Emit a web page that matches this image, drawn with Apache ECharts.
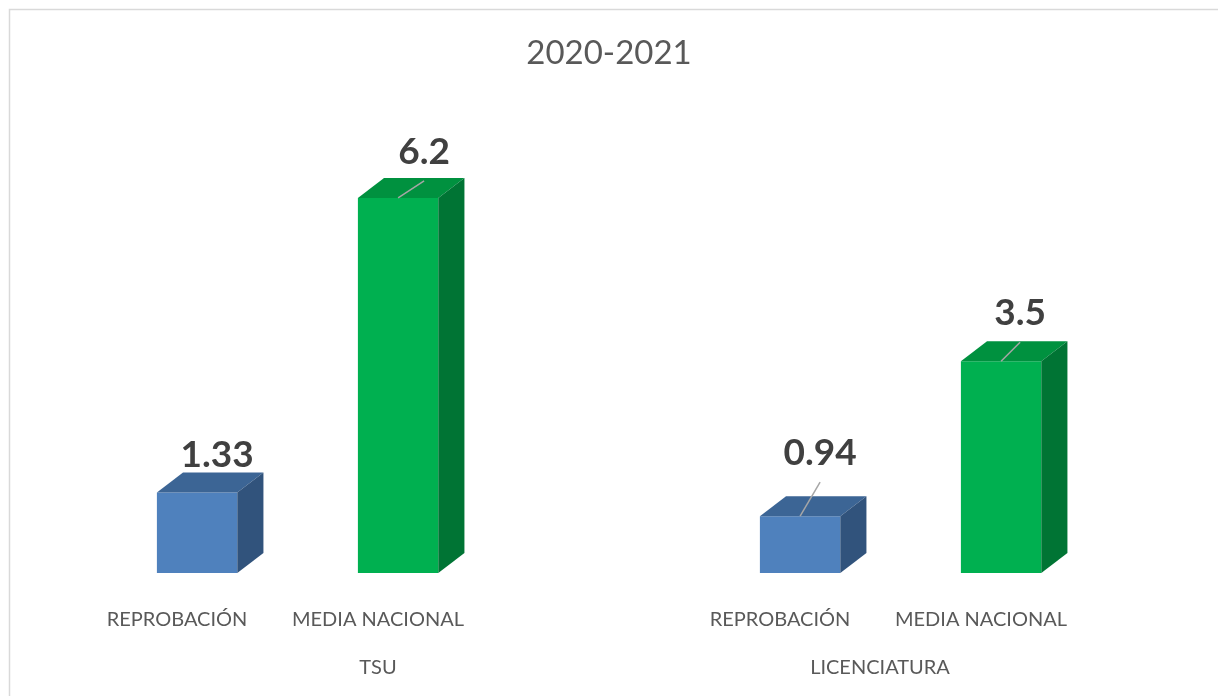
<!DOCTYPE html>
<html>
<head>
<meta charset="utf-8">
<script src="https://cdn.jsdelivr.net/npm/echarts@6/dist/echarts.min.js"></script>
<style>html,body{margin:0;padding:0;background:#fff}#c{width:1218px;height:696px}</style>
</head>
<body>
<div id="c"></div>
<script>
// ---- data ----
var title = '2020-2021';
var groups = ['TSU', 'LICENCIATURA'];
var subCategories = ['REPROBACIÓN', 'MEDIA NACIONAL'];
var reprobacion = [1.33, 0.94];
var mediaNacional = [6.2, 3.5];

// ---- styling ----
var palette = {
  'REPROBACIÓN': { front: '#4F81BD', top: '#3C6595', side: '#31537C' },
  'MEDIA NACIONAL': { front: '#00B050', top: '#00913F', side: '#007434' }
};
// label offsets (relative to the front-top centre of each bar), in order of bars
var labelOffsets = [[20, -37], [26, -46], [20, -63], [19, -48]];

// build axis categories: a spacer slot between the two groups
var axisCats = [];
var barData = [];
groups.forEach(function (g, gi) {
  if (gi > 0) axisCats.push('');
  var vals = [reprobacion[gi], mediaNacional[gi]];
  subCategories.forEach(function (s, si) {
    barData.push([axisCats.length, vals[si], si, barData.length]);
    axisCats.push(s);
  });
});

var chart = echarts.init(document.getElementById('c'), null, { renderer: 'canvas' });

function renderItem(params, api) {
  var idx = api.value(0), val = api.value(1), si = api.value(2), bi = api.value(3);
  var base = api.coord([idx, 0]);
  var topP = api.coord([idx, val]);
  var bw = api.size([1, 0])[0];
  var c = palette[subCategories[si]];
  var fl = base[0] - 0.1 * bw;
  var w = 0.4 * bw;
  var dx = 0.13 * bw, dy = 20;
  var y0 = base[1], y1 = topP[1];
  var children = [
    { type: 'polygon', shape: { points: [[fl, y1], [fl + w, y1], [fl + w, y0], [fl, y0]] }, style: { fill: c.front } },
    { type: 'polygon', shape: { points: [[fl, y1], [fl + dx, y1 - dy], [fl + w + dx, y1 - dy], [fl + w, y1]] }, style: { fill: c.top } },
    { type: 'polygon', shape: { points: [[fl + w, y1], [fl + w + dx, y1 - dy], [fl + w + dx, y0 - dy], [fl + w, y0]] }, style: { fill: c.side } }
  ];
  var cx = fl + w / 2;
  var off = labelOffsets[bi] || [20, -45];
  var lx = cx + off[0], ly = y1 + off[1];
  var lineEndY = ly + 29;
  if (y1 - lineEndY > 12) {
    children.push({ type: 'line', shape: { x1: cx, y1: y1, x2: lx, y2: lineEndY }, style: { stroke: '#A6A6A6', lineWidth: 1.5 } });
  }
  children.push({
    type: 'text',
    style: {
      text: String(val), x: lx, y: ly, align: 'center', verticalAlign: 'middle',
      fill: '#404040', font: 'bold 37px Lato'
    }
  });
  return { type: 'group', children: children };
}

chart.setOption({
  backgroundColor: '#ffffff',
  animation: false,
  title: {
    text: title, left: 'center', top: 32,
    textStyle: { fontFamily: 'Lato', fontSize: 33, fontWeight: 'normal', color: '#595959' }
  },
  grid: { left: 76.5, right: 136.5, top: 149.5, bottom: 123 },
  xAxis: {
    type: 'category',
    data: axisCats,
    axisLine: { show: false },
    axisTick: { show: false },
    splitLine: { show: false },
    axisLabel: { interval: 0, margin: 37, fontFamily: 'Lato', fontSize: 20, color: '#595959' }
  },
  yAxis: {
    type: 'value', min: 0, max: 7, interval: 1,
    show: false, splitLine: { show: false }
  },
  series: [{
    type: 'custom',
    renderItem: renderItem,
    data: barData,
    encode: { x: 0, y: 1 },
    clip: false
  }],
  graphic: [
    { type: 'rect', left: 7, top: 7, shape: { width: 1400, height: 900 }, style: { fill: 'none', stroke: '#D9D9D9', lineWidth: 1.5 }, silent: true, z: -1 },
    { type: 'text', x: 378, y: 668, style: { text: groups[0], align: 'center', verticalAlign: 'middle', font: '20px Lato', fill: '#595959' } },
    { type: 'text', x: 880, y: 668, style: { text: groups[1], align: 'center', verticalAlign: 'middle', font: '20px Lato', fill: '#595959' } }
  ]
});
</script>
</body>
</html>
